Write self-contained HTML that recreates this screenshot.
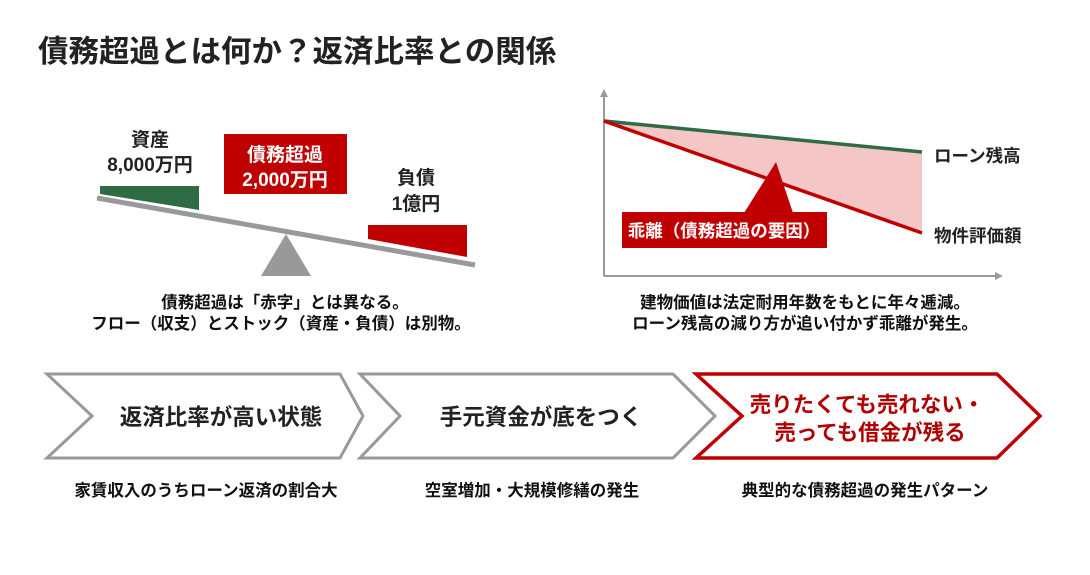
<!DOCTYPE html>
<html><head><meta charset="utf-8"><style>
body{margin:0;background:#fff;}
svg text{font-family:"Liberation Sans","Noto Sans CJK JP",sans-serif;font-weight:bold;}
</style></head><body>
<svg width="1090" height="570" viewBox="0 0 1090 570" xmlns="http://www.w3.org/2000/svg">
<rect width="1090" height="570" fill="#fff"/>
<text x="38" y="62" font-size="30.5" fill="#222">債務超過とは何か？返済比率との関係</text>

<!-- balance -->
<text x="150" y="146" font-size="19" text-anchor="middle" fill="#222">資産</text>
<text x="150" y="171" font-size="19" text-anchor="middle" fill="#222">8,000万円</text>
<polygon points="100,186 199,186 199,210 100,194" fill="#2f6b45"/>
<line x1="97" y1="198" x2="475" y2="265" stroke="#999" stroke-width="5"/>
<polygon points="286,234 261,276 311,276" fill="#999"/>
<rect x="224" y="134" width="123" height="60" fill="#c00000"/>
<text x="285" y="161" font-size="19" text-anchor="middle" fill="#fff">債務超過</text>
<text x="285" y="186" font-size="19" text-anchor="middle" fill="#fff">2,000万円</text>
<text x="416" y="184" font-size="19" text-anchor="middle" fill="#222">負債</text>
<text x="416" y="210" font-size="19" text-anchor="middle" fill="#222">1億円</text>
<polygon points="368,225 467,225 467,257 368,239" fill="#c00000"/>
<text x="285" y="308" font-size="16.5" text-anchor="middle" fill="#111">債務超過は「赤字」とは異なる。</text>
<text x="281" y="329" font-size="16.5" text-anchor="middle" fill="#111">フロー（収支）とストック（資産・負債）は別物。</text>

<!-- chart -->
<line x1="604" y1="95" x2="604" y2="276" stroke="#999" stroke-width="2"/>
<polygon points="604,89 600,97 608,97" fill="#999"/>
<line x1="604" y1="276" x2="996" y2="276" stroke="#999" stroke-width="2"/>
<polygon points="1003,276 995,272 995,280" fill="#999"/>
<polygon points="604,121 922,152 922,233" fill="#f5c6c6"/>
<line x1="604" y1="121" x2="922" y2="152" stroke="#2f6b45" stroke-width="3.5"/>
<line x1="604" y1="121" x2="922" y2="233" stroke="#c00000" stroke-width="3.5"/>
<polygon points="776,162 744,213 793,213" fill="#c00000"/>
<rect x="622" y="212" width="205" height="36" fill="#c00000"/>
<text x="724" y="237" font-size="17.5" text-anchor="middle" fill="#fff">乖離（債務超過の要因）</text>
<text x="934" y="162" font-size="17.5" fill="#222">ローン残高</text>
<text x="934" y="242" font-size="17.5" fill="#222">物件評価額</text>
<text x="805" y="308" font-size="16.5" text-anchor="middle" fill="#111">建物価値は法定耐用年数をもとに年々逓減。</text>
<text x="805" y="329" font-size="16.5" text-anchor="middle" fill="#111">ローン残高の減り方が追い付かず乖離が発生。</text>

<!-- chevrons -->
<polygon points="47,374 340,374 363,416 340,458 47,458 92,416" fill="#fff" stroke="#999" stroke-width="3"/>
<polygon points="360,374 673,374 715,416 673,458 360,458 400,416" fill="#fff" stroke="#999" stroke-width="3"/>
<polygon points="696,374 997,374 1040,416 997,458 696,458 742,416" fill="#fff" stroke="#c00000" stroke-width="3.5"/>
<text x="221" y="425" font-size="22.5" text-anchor="middle" fill="#222">返済比率が高い状態</text>
<text x="541" y="425" font-size="22.5" text-anchor="middle" fill="#222">手元資金が底をつく</text>
<text x="867" y="412" font-size="21.5" text-anchor="middle" fill="#b00000">売りたくても売れない・</text>
<text x="870" y="440" font-size="21.5" text-anchor="middle" fill="#b00000">売っても借金が残る</text>
<text x="206" y="496" font-size="16.5" text-anchor="middle" fill="#111">家賃収入のうちローン返済の割合大</text>
<text x="532" y="496" font-size="16.5" text-anchor="middle" fill="#111">空室増加・大規模修繕の発生</text>
<text x="865" y="496" font-size="16.5" text-anchor="middle" fill="#111">典型的な債務超過の発生パターン</text>
</svg>
</body></html>
